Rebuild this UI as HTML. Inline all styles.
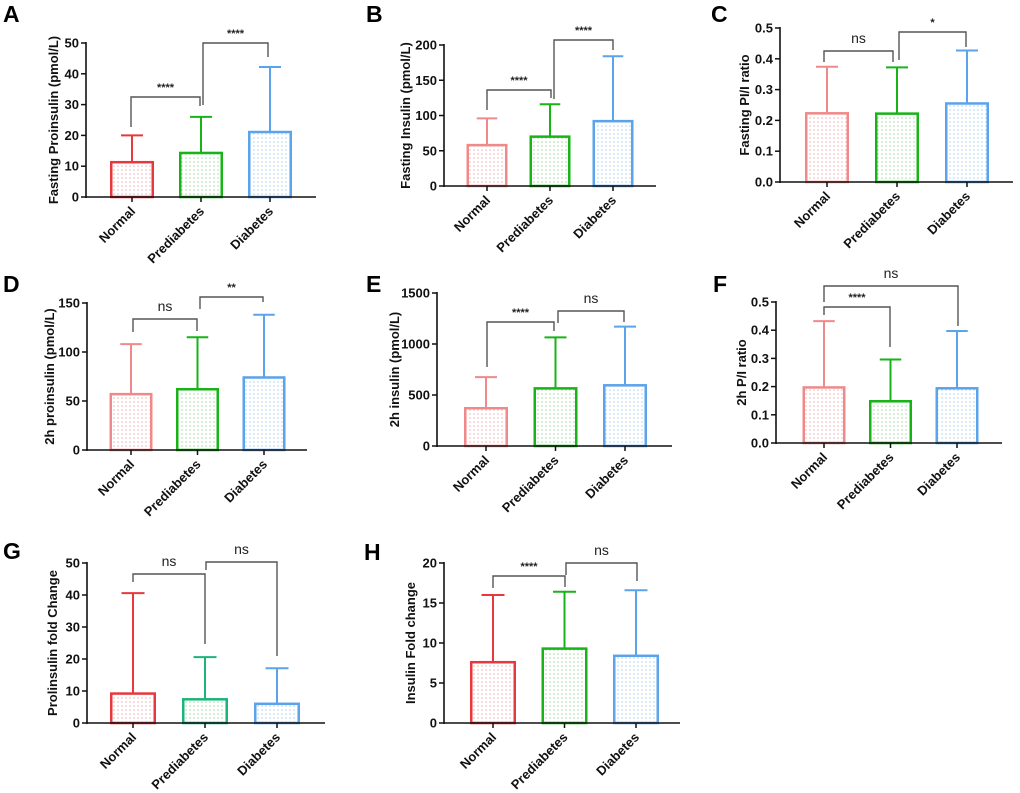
<!DOCTYPE html>
<html><head><meta charset="utf-8">
<style>
html,body{margin:0;padding:0;background:#fff;}
svg{display:block;font-family:"Liberation Sans",Arial,sans-serif;}
</style></head>
<body>
<svg id="fig" width="1020" height="793" viewBox="0 0 1020 793" xmlns="http://www.w3.org/2000/svg">
<defs>
<pattern id="dotN" width="4" height="4" patternUnits="userSpaceOnUse"><rect width="4" height="4" fill="#fff"/><circle cx="2" cy="2" r="0.8" fill="#f2b5b7"/></pattern>
<pattern id="dotP" width="4" height="4" patternUnits="userSpaceOnUse"><rect width="4" height="4" fill="#fff"/><circle cx="2" cy="2" r="0.8" fill="#a9dba9"/></pattern>
<pattern id="dotD" width="4" height="4" patternUnits="userSpaceOnUse"><rect width="4" height="4" fill="#fff"/><circle cx="2" cy="2" r="0.8" fill="#b3d3f2"/></pattern>
</defs>
</svg>
<script>
const categories = ["Normal", "Prediabetes", "Diabetes"];

const aValues = [11.3, 14.3, 21.1];
const aErrors = [20.0, 26.0, 42.2];
const aTicks = ["0", "10", "20", "30", "40", "50"];

const bValues = [58, 70, 92];
const bErrors = [96, 116, 184];
const bTicks = ["0", "50", "100", "150", "200"];

const cValues = [0.223, 0.222, 0.255];
const cErrors = [0.374, 0.372, 0.427];
const cTicks = ["0.0", "0.1", "0.2", "0.3", "0.4", "0.5"];

const dValues = [57, 62, 74];
const dErrors = [108, 115, 138];
const dTicks = ["0", "50", "100", "150"];

const eValues = [370, 565, 595];
const eErrors = [675, 1065, 1170];
const eTicks = ["0", "500", "1000", "1500"];

const fValues = [0.197, 0.148, 0.194];
const fErrors = [0.432, 0.296, 0.397];
const fTicks = ["0.0", "0.1", "0.2", "0.3", "0.4", "0.5"];

const gValues = [9.2, 7.4, 6.0];
const gErrors = [40.6, 20.6, 17.1];
const gTicks = ["0", "10", "20", "30", "40", "50"];

const hValues = [7.6, 9.3, 8.4];
const hErrors = [16.0, 16.4, 16.6];
const hTicks = ["0", "5", "10", "15", "20"];

const NS = "http://www.w3.org/2000/svg";
const svg = document.getElementById("fig");
function mk(tag, attrs, parent, text) {
  const el = document.createElementNS(NS, tag);
  for (const k in attrs) el.setAttribute(k, attrs[k]);
  if (text !== undefined) el.textContent = text;
  parent.appendChild(el);
  return el;
}
const RED = "#e8383d", PINK = "#f08a8a", GREEN = "#17b317", TEAL = "#1db37a", BLUE = "#5ba3ea";

function panel(o) {
  const g = mk("g", {}, svg);
  
  
  const max = parseFloat(o.ticks[o.ticks.length - 1]);
  const y = v => o.y0 - (v / max) * (o.y0 - o.yTop);
  const x = i => o.c0 + i * o.step;
  const lt = mk("text", {x: o.lx, y: o.ly, "font-size": 23, "font-weight": "bold", fill: "#000"}, g, o.letter);
  
  
  const cols = o.colors;
  const fills = ["url(#dotN)", "url(#dotP)", "url(#dotD)"];
  o.values.forEach((v, i) => {
    const cx = x(i), w = o.bw;
    const el = mk("line", {x1: cx, x2: cx, y1: y(v), y2: y(o.errors[i]), stroke: cols[i], "stroke-width": 2}, g);
    
    
    const cap = mk("line", {x1: cx - w / 4, x2: cx + w / 4, y1: y(o.errors[i]), y2: y(o.errors[i]), stroke: cols[i], "stroke-width": 2}, g);
    
    
    const r = mk("rect", {x: cx - w / 2 + 1.25, y: y(v), width: w - 2.5, height: o.y0 - y(v), fill: fills[i], stroke: cols[i], "stroke-width": 2.5}, g);
    
    
  });
  const ya = mk("line", {x1: o.ax, x2: o.ax, y1: o.yTop - 1, y2: o.y0 + 1, stroke: "#111", "stroke-width": 1.6}, g);
  
  
  const xa = mk("line", {x1: o.ax, x2: o.xEnd, y1: o.y0, y2: o.y0, stroke: "#111", "stroke-width": 1.6}, g);
  
  
  o.ticks.forEach(t => {
    const ty = y(parseFloat(t));
    mk("line", {x1: o.ax - 5, x2: o.ax, y1: ty, y2: ty, stroke: "#111", "stroke-width": 1.5}, g);
    const tl = mk("text", {x: o.ax - 7, y: ty + 4.5, "font-size": 13, "font-weight": "bold", "text-anchor": "end", fill: "#111"}, g, t);
    
    
  });
  categories.forEach((c, i) => {
    const cx = x(i);
    mk("line", {x1: cx, x2: cx, y1: o.y0, y2: o.y0 + 5, stroke: "#111", "stroke-width": 1.5}, g);
    const tl = mk("text", {x: cx + 4, y: o.y0 + 15, "font-size": 13, "font-weight": "bold", "text-anchor": "end", fill: "#111", transform: "rotate(-45 " + (cx + 4) + " " + (o.y0 + 15) + ")"}, g, c);
    
    
  });
  const mid = (o.y0 + o.yTop) / 2;
  const yt = mk("text", {x: o.tx, y: mid, "font-size": 13, "font-weight": "bold", "text-anchor": "middle", fill: "#111", transform: "rotate(-90 " + o.tx + " " + mid + ")"}, g, o.title);
  
  
  o.brackets.forEach(b => {
    const p = mk("polyline", {points: b[0] + "," + b[3] + " " + b[0] + "," + b[2] + " " + b[1] + "," + b[2] + " " + b[1] + "," + b[4], fill: "none", stroke: "#555", "stroke-width": 1.4}, g);
    
    
    const isNs = b[5] === "ns";
    const t = mk("text", {x: (b[0] + b[1]) / 2, y: isNs ? b[2] - 8 : b[2] - 6, "font-size": isNs ? 14 : 11, "text-anchor": "middle", fill: "#222", "font-weight": isNs ? "normal" : "bold"}, g, b[5]);
    
    
  });
}

panel({letter: "A", lx: 3, ly: 22, title: "Fasting Proinsulin (pmol/L)", tx: 58, values: aValues, errors: aErrors, ticks: aTicks,
  ax: 86, y0: 197, yTop: 43, xEnd: 316, c0: 132, step: 69, bw: 44, colors: [RED, GREEN, BLUE],
  brackets: [[131, 200, 97, 127, 106, "****"], [203, 268, 43, 105, 57, "****"]]});
panel({letter: "B", lx: 366, ly: 22, title: "Fasting Insulin (pmol/L)", tx: 410, values: bValues, errors: bErrors, ticks: bTicks,
  ax: 444, y0: 186, yTop: 45, xEnd: 656, c0: 487, step: 63, bw: 41, colors: [PINK, GREEN, BLUE],
  brackets: [[487, 551, 90, 110, 98, "****"], [554, 613, 40, 99, 50, "****"]]});
panel({letter: "C", lx: 711, ly: 22, title: "Fasting PI/I ratio", tx: 749, values: cValues, errors: cErrors, ticks: cTicks,
  ax: 780, y0: 182, yTop: 28, xEnd: 1013, c0: 827, step: 70, bw: 44, colors: [PINK, GREEN, BLUE],
  brackets: [[824, 893, 51, 62, 62, "ns"], [899, 966, 32, 60, 47, "*"]]});
panel({letter: "D", lx: 3, ly: 292, title: "2h proinsulin (pmol/L)", tx: 54, values: dValues, errors: dErrors, ticks: dTicks,
  ax: 87, y0: 450, yTop: 303, xEnd: 307, c0: 131, step: 66.5, bw: 43, colors: [PINK, GREEN, BLUE],
  brackets: [[133, 197, 319, 332, 331, "ns"], [200, 263, 297, 309, 302, "**"]]});
panel({letter: "E", lx: 366, ly: 292, title: "2h insulin (pmol/L)", tx: 399, values: eValues, errors: eErrors, ticks: eTicks,
  ax: 437, y0: 446, yTop: 293, xEnd: 672, c0: 486, step: 69.5, bw: 44, colors: [PINK, GREEN, BLUE],
  brackets: [[487, 554, 322, 367, 331, "****"], [558, 624, 311, 323, 322, "ns"]]});
panel({letter: "F", lx: 713, ly: 292, title: "2h P/I ratio", tx: 746, values: fValues, errors: fErrors, ticks: fTicks,
  ax: 776, y0: 443, yTop: 302, xEnd: 1002, c0: 824, step: 66.5, bw: 43, colors: [PINK, GREEN, BLUE],
  brackets: [[824, 890, 307, 315, 347, "****"], [824, 958, 286, 302, 326, "ns"]]});
panel({letter: "G", lx: 3, ly: 559, title: "Prolinsulin fold Change", tx: 57, values: gValues, errors: gErrors, ticks: gTicks,
  ax: 87, y0: 723, yTop: 563, xEnd: 325, c0: 133, step: 72, bw: 46, colors: [RED, TEAL, BLUE],
  brackets: [[133, 205, 574, 582, 644, "ns"], [206, 277, 562, 570, 656, "ns"]]});
panel({letter: "H", lx: 364, ly: 560, title: "Insulin Fold change", tx: 415, values: hValues, errors: hErrors, ticks: hTicks,
  ax: 444, y0: 723, yTop: 563, xEnd: 680, c0: 493, step: 71.5, bw: 46, colors: [RED, GREEN, BLUE],
  brackets: [[493, 565, 576, 588, 587, "****"], [566, 637, 563, 575, 581, "ns"]]});
</script>
</body></html>
